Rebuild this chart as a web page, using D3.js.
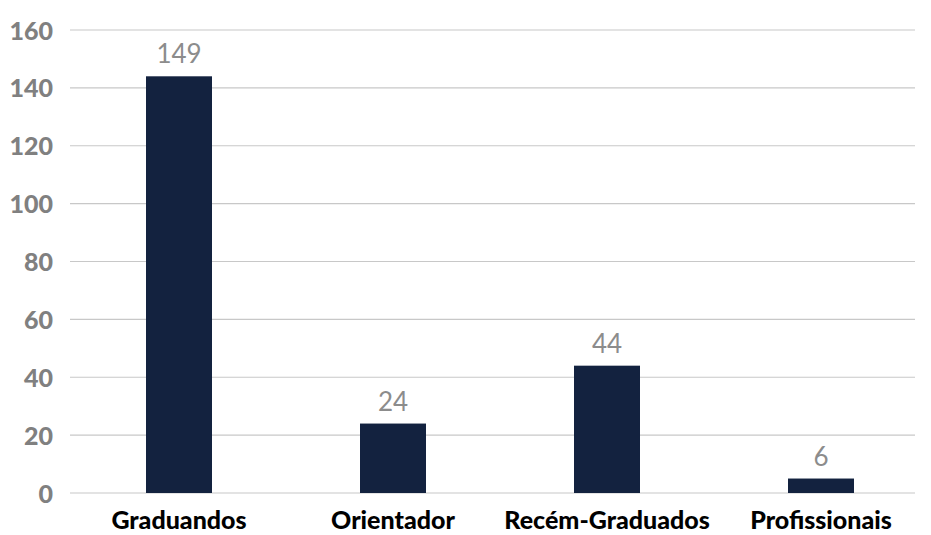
<!DOCTYPE html>
<html><head><meta charset="utf-8">
<script src="https://cdn.jsdelivr.net/npm/d3@7"></script>
<style>body{margin:0;background:#fff}svg{display:block}</style>
</head><body>
<svg id="c" width="931" height="535"></svg>
<script>
const categories = ["Graduandos", "Orientador", "Recém-Graduados", "Profissionais"];
const barValues = [144, 24, 44, 5];
const valueLabels = ["149", "24", "44", "6"];
const yTicks = [0, 20, 40, 60, 80, 100, 120, 140, 160];

const svg = d3.select("#c");
const gridLeft = 70, gridRight = 915;
const y = d3.scaleLinear().domain([0, 160]).range([493, 30]);
const x = d3.scaleBand().domain(categories).range([72, 928]).paddingInner(0.69).paddingOuter(0.345);

// grid
svg.append("g").selectAll("line").data(yTicks).join("line")
  .attr("x1", gridLeft).attr("x2", gridRight)
  .attr("y1", d => y(d)).attr("y2", d => y(d))
  .attr("stroke", "#c8c8c8").attr("stroke-width", 1.2);

// y axis labels
const yAxis = d3.axisLeft(y).tickValues(yTicks).tickSize(0).tickPadding(0);
const gy = svg.append("g").attr("transform", "translate(53,0)").call(yAxis);
gy.select(".domain").remove();
gy.selectAll("text").attr("font-family", "Lato").attr("font-weight", 900)
  .attr("font-size", 25).attr("fill", "#808080").attr("dy", "0.36em");

// bars
const bw = 66;
svg.append("g").selectAll("rect").data(barValues).join("rect")
  .attr("x", (d, i) => x(categories[i]) + x.bandwidth() / 2 - bw / 2)
  .attr("width", bw)
  .attr("y", d => y(d))
  .attr("height", d => y(0) - y(d))
  .attr("fill", "#13223f");

// value labels
svg.append("g").selectAll("text").data(barValues).join("text")
  .attr("x", (d, i) => x(categories[i]) + x.bandwidth() / 2)
  .attr("y", d => y(d) - 13)
  .attr("text-anchor", "middle")
  .attr("font-family", "Lato").attr("font-size", 26).attr("fill", "#8c8c8c")
  .text((d, i) => valueLabels[i]);

// x axis labels
const xAxis = d3.axisBottom(x).tickSize(0).tickPadding(0);
const gx = svg.append("g").attr("transform", "translate(0,529)").call(xAxis);
gx.select(".domain").remove();
gx.selectAll("text").attr("font-family", "Lato").attr("font-weight", 900)
  .attr("font-size", 25).attr("fill", "#000").attr("dy", "0").attr("y", 0);
</script>
</body></html>
